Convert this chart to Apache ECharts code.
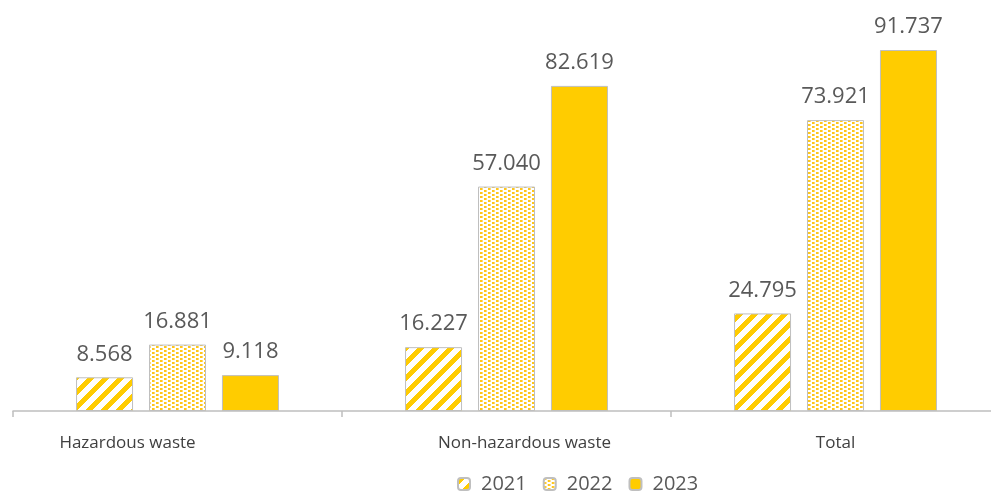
<!DOCTYPE html>
<html>
<head>
<meta charset="utf-8">
<script src="https://cdn.jsdelivr.net/npm/echarts@6/dist/echarts.min.js"></script>
<style>
  html, body { margin: 0; padding: 0; background: #ffffff; }
  #chart { width: 991px; height: 493px; }
</style>
</head>
<body>
<div id="chart"></div>
<script>
// Waste generated by type, per year
const categories = ['Hazardous waste', 'Non-hazardous waste', 'Total'];
const years = ['2021', '2022', '2023'];
const values2021 = [8.568, 16.227, 24.795];
const values2022 = [16.881, 57.040, 73.921];
const values2023 = [9.118, 82.619, 91.737];

const YELLOW = '#FFCC00';

// Diagonal stripe fill ("/" direction)
function stripeTile() {
  const n = 15;
  const c = document.createElement('canvas');
  c.width = n; c.height = n;
  const ctx = c.getContext('2d');
  ctx.fillStyle = '#ffffff';
  ctx.fillRect(0, 0, n, n);
  ctx.fillStyle = YELLOW;
  for (let y = 0; y < n; y++) {
    for (let x = 0; x < n; x++) {
      if ((x + y) % n < 7) ctx.fillRect(x, y, 1, 1);
    }
  }
  return c;
}

// Small dotted fill
function dotTile() {
  const c = document.createElement('canvas');
  c.width = 8; c.height = 4;
  const ctx = c.getContext('2d');
  ctx.fillStyle = '#ffffff';
  ctx.fillRect(0, 0, 8, 4);
  ctx.fillStyle = '#FFC61A';
  ctx.fillRect(0, 0, 2, 2);
  ctx.fillRect(4, 2, 2, 2);
  ctx.fillStyle = '#FFDB70';
  ctx.fillRect(2, 0, 1, 2);
  ctx.fillRect(6, 2, 1, 2);
  return c;
}

const stripeFill = { image: stripeTile(), repeat: 'repeat' };
const dotFill = { image: dotTile(), repeat: 'repeat' };

const valueLabel = {
  show: true,
  position: 'top',
  distance: 12,
  color: '#595959',
  fontFamily: 'Open Sans',
  fontSize: 22,
  formatter: p => p.value.toFixed(3)
};

const border = { borderColor: '#BFBFBF', borderWidth: 1 };

// Per-category label nudges
const labelPad = [[0, 100, 0, 0], [0, 0, 0, 36], [0, 0, 0, 0]];

const chart = echarts.init(document.getElementById('chart'));
chart.setOption({
  animation: false,
  backgroundColor: '#ffffff',
  grid: { left: 13, width: 987, top: 17.5, bottom: 82, containLabel: false, outerBoundsMode: 'none' },
  legend: {
    data: years,
    left: 452,
    top: 469,
    itemWidth: 12,
    itemHeight: 12,
    itemGap: 16,
    textStyle: { color: '#595959', fontFamily: 'Open Sans', fontSize: 20, padding: [0, 0, 0, 6] }
  },
  xAxis: {
    type: 'category',
    data: categories.map((c, i) => ({ value: c, textStyle: { padding: labelPad[i] } })),
    axisLine: { lineStyle: { color: '#BFBFBF', width: 1.5 } },
    axisTick: { show: true, length: 6, lineStyle: { color: '#BFBFBF', width: 1.5 } },
    axisLabel: { color: '#404040', fontFamily: 'Open Sans', fontSize: 17, margin: 24 }
  },
  yAxis: {
    type: 'value', min: 0, max: 100, show: false,
    splitLine: { show: false }
  },
  series: [
    { name: years[0], type: 'bar', data: values2021, barWidth: 57, barGap: '28%',
      itemStyle: Object.assign({ color: stripeFill }, border), label: valueLabel },
    { name: years[1], type: 'bar', data: values2022, barWidth: 57, barGap: '28%',
      itemStyle: Object.assign({ color: dotFill }, border), label: valueLabel },
    { name: years[2], type: 'bar', data: values2023, barWidth: 57, barGap: '28%',
      itemStyle: Object.assign({ color: YELLOW }, border), label: valueLabel }
  ]
});
</script>
</body>
</html>
